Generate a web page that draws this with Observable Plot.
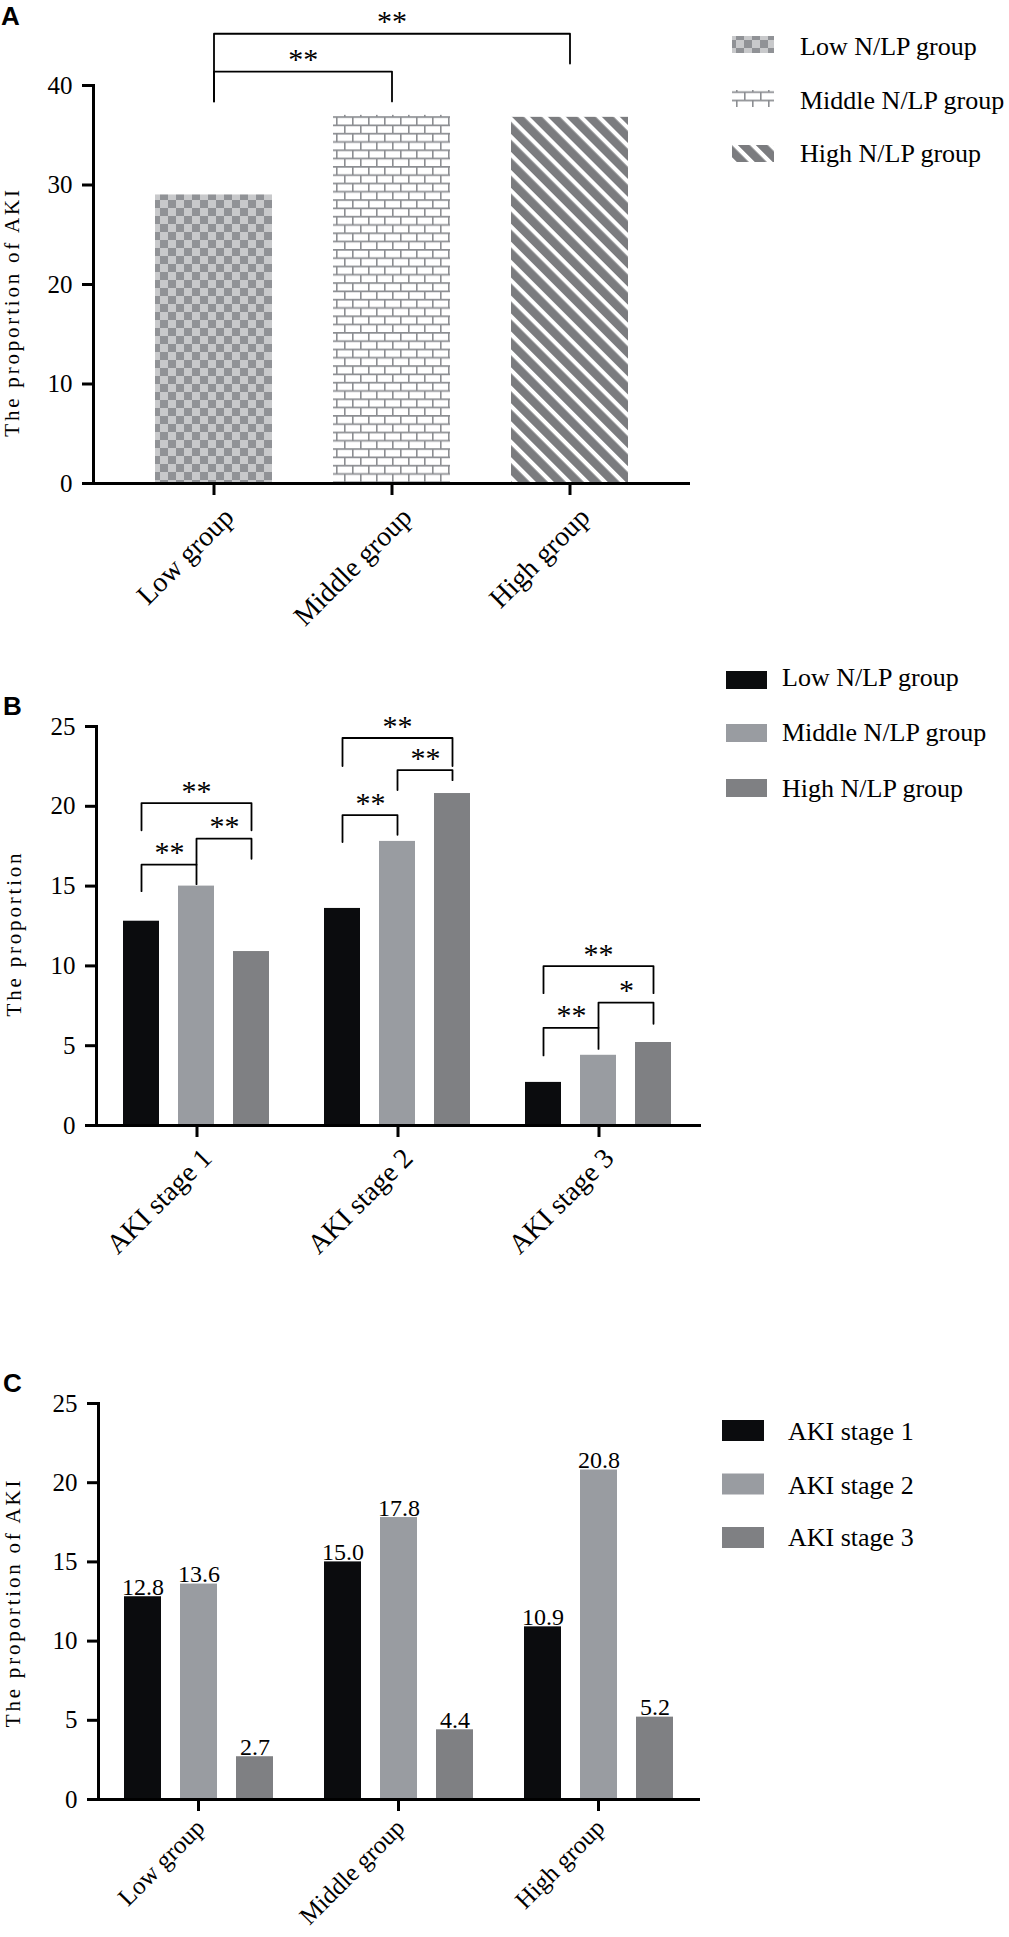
<!DOCTYPE html>
<html>
<head>
<meta charset="utf-8">
<script src="https://cdn.jsdelivr.net/npm/d3@7"></script>
<script src="https://cdn.jsdelivr.net/npm/@observablehq/plot@0.6"></script>
<style>
html, body { margin: 0; padding: 0; background: #fff; }
#root { position: relative; width: 1009px; height: 1937px; overflow: hidden; background: #fff; }
#root > svg { position: absolute; left: 0; }
#root svg text { font-family: 'Liberation Serif', 'Times New Roman', serif; }
</style>
</head>
<body>
<svg width="0" height="0" style="position:absolute">
  <defs>
    <pattern id="checker" patternUnits="userSpaceOnUse" width="16" height="16">
      <rect width="16" height="16" fill="#c8c9cb"/>
      <rect width="8" height="8" fill="#909296"/>
      <rect x="8" y="8" width="8" height="8" fill="#909296"/>
    </pattern>
    <pattern id="bricks" patternUnits="userSpaceOnUse" width="16" height="16.6">
      <rect width="16" height="16.6" fill="#fff"/>
      <path d="M0 0.8H16M0 9.1H16M0.8 0V8.3M8.8 8.3V16.6" stroke="#8c8e92" stroke-width="1.6" fill="none"/>
    </pattern>
    <pattern id="stripes" patternUnits="userSpaceOnUse" width="12.7" height="12.7" patternTransform="rotate(-45)">
      <rect width="12.7" height="12.7" fill="#fff"/>
      <rect width="8.5" height="12.7" fill="#7b7c7f"/>
    </pattern>
  </defs>
</svg>
<div id="root"></div>
<script>
// ---------- data ----------
const groups = ["Low group", "Middle group", "High group"];
const nlpGroups = ["Low N/LP group", "Middle N/LP group", "High N/LP group"];
const stages = ["AKI stage 1", "AKI stage 2", "AKI stage 3"];

// Panel A: proportion of AKI per N/LP group
const aValues = [29.0, 37.0, 36.8];
// Panels B & C: proportion per AKI stage (one array per N/LP group)
const lowValues = [12.8, 13.6, 2.7];
const middleValues = [15.0, 17.8, 4.4];
const highValues = [10.9, 20.8, 5.2];

const yTicksA = [0, 10, 20, 30, 40];
const yTicksBC = [0, 5, 10, 15, 20, 25];

const titleA = "The proportion of AKI";
const titleB = "The proportion";
const titleC = "The proportion of AKI";

// significance brackets, panel A (y in data units)
const aBrFrom = ["Low group", "Low group"];
const aBrTo = ["Middle group", "High group"];
const aBrTop = [41.4, 45.2];
const aBrLeftEnd = [38.4, 38.4];
const aBrRightEnd = [38.4, 42.2];
const aBrLabel = ["**", "**"];

// significance brackets, panel B
const bBrStage = ["AKI stage 1", "AKI stage 1", "AKI stage 1",
                  "AKI stage 2", "AKI stage 2", "AKI stage 2",
                  "AKI stage 3", "AKI stage 3", "AKI stage 3"];
const bBrFrom = ["Low N/LP group", "Middle N/LP group", "Low N/LP group",
                 "Low N/LP group", "Middle N/LP group", "Low N/LP group",
                 "Low N/LP group", "Middle N/LP group", "Low N/LP group"];
const bBrTo = ["Middle N/LP group", "High N/LP group", "High N/LP group",
               "Middle N/LP group", "High N/LP group", "High N/LP group",
               "Middle N/LP group", "High N/LP group", "High N/LP group"];
const bBrTop = [16.34, 17.97, 20.2, 19.45, 22.27, 24.28, 6.12, 7.7, 9.99];
const bBrLeftEnd = [14.68, 16.34, 18.5, 17.76, 21.02, 22.52, 4.39, 6.12, 8.29];
const bBrRightEnd = [15.12, 16.71, 18.5, 18.21, 21.64, 22.52, 4.8, 6.37, 8.29];
const bBrLabel = ["**", "**", "**", "**", "**", "**", "**", "*", "**"];

// ---------- styles ----------
const serif = "'Liberation Serif', 'Times New Roman', serif";
const sans = "'Liberation Sans', Arial, sans-serif";
const patternFills = ["url(#checker)", "url(#bricks)", "url(#stripes)"];
const seriesColors = ["#0b0c0e", "#999ca1", "#7f8083"];
const bracketStroke = 1.8;
const starSize = 30;

// ---------- tables built from the arrays ----------
const aData = groups.map((g, i) => ({group: g, value: aValues[i], fill: patternFills[i]}));
const nlpArrays = [lowValues, middleValues, highValues];
const bData = [];
stages.forEach((s, j) => nlpGroups.forEach((n, i) => bData.push({stage: s, series: n, value: nlpArrays[i][j]})));
const cData = [];
groups.forEach((g, i) => stages.forEach((s, j) => cData.push({group: g, stage: s, value: nlpArrays[i][j]})));

function bracketPoints(from, to, top, le, re, extra) {
  const pts = [];
  from.forEach((f, k) => {
    const e = extra ? extra(k) : {};
    pts.push({id: k, x: f, y: le[k], ...e}, {id: k, x: f, y: top[k], ...e},
             {id: k, x: to[k], y: top[k], ...e}, {id: k, x: to[k], y: re[k], ...e});
  });
  return pts;
}
function bracketLabels(from, to, top, label, domain, extra) {
  return from.map((f, k) => {
    const i = domain.indexOf(f), j = domain.indexOf(to[k]);
    const m = (i + j) / 2;
    const e = extra ? extra(k) : {};
    return {x: domain[Math.floor(m)], half: m % 1 !== 0, y: top[k], label: label[k], ...e};
  });
}

const root = document.getElementById("root");
const baseStyle = {fontFamily: serif, fontSize: "25px", color: "black", background: "transparent", overflow: "visible"};

function styleTitle(svg, title) {
  d3.select(svg).selectAll("text").filter(function () { return this.textContent === title; })
    .style("letter-spacing", "2.8px");
}

// ---------- Panel A ----------
{
  const mL = 93, mR = 319, W = 1009, pad = 0.34;
  const step = (W - mL - mR) / (3 - pad + 2 * pad);
  const pts = bracketPoints(aBrFrom, aBrTo, aBrTop, aBrLeftEnd, aBrRightEnd);
  const labs = bracketLabels(aBrFrom, aBrTo, aBrTop, aBrLabel, groups);
  const chart = Plot.plot({
    width: W, height: 640,
    marginLeft: mL, marginRight: mR, marginTop: 85, marginBottom: 157,
    style: baseStyle,
    x: {domain: groups, padding: pad, label: null},
    y: {domain: [0, 40], label: null},
    color: {type: "identity"},
    marks: [
      Plot.barY(aData, {x: "group", y: "value", fill: "fill"}),
      Plot.frame({anchor: "left", strokeWidth: 3}),
      Plot.ruleY([0], {strokeWidth: 3}),
      Plot.axisY({ticks: yTicksA, tickSize: 11, tickPadding: 10, strokeWidth: 3, fontSize: 25, fontFamily: serif, label: null}),
      Plot.axisX({tickSize: 12, strokeWidth: 3, tickFormat: () => "", label: null}),
      Plot.axisX({tickSize: 0, tickRotate: -45, tickPadding: 18, dx: 15, dy: 11, fontSize: 28, fontFamily: serif, label: null}),
      Plot.line(pts, {x: "x", y: "y", z: "id", stroke: "black", strokeWidth: bracketStroke}),
      Plot.text(labs.filter(d => d.half), {x: "x", y: "y", text: "label", dx: step / 2, dy: -12, fontSize: starSize, fontFamily: serif}),
      Plot.text(labs.filter(d => !d.half), {x: "x", y: "y", text: "label", dy: -12, fontSize: starSize, fontFamily: serif}),
      Plot.text([titleA], {frameAnchor: "left", textAnchor: "middle", rotate: -90, dx: -81.5, dy: 27.5, fontSize: 21, fontFamily: serif})
    ]
  });
  styleTitle(chart, titleA);
  chart.style.top = "0px";
  root.appendChild(chart);
}

// ---------- grouped panels (B, C) ----------
function grouped({data, fxKey, fxDomain, xKey, xDomain, top, height, mL, mR, mT, mB, title, titleDx, titleDy, labelDx, labelDy, labelSize, extraMarks}) {
  const W = 1009, innerStep = 56, barW = 37;
  const facetW = (W - mL - mR) / 3;
  const pi = 1 - barW / innerStep;
  const po = (facetW / innerStep - 3 + pi) / 2;
  const chart = Plot.plot({
    width: W, height,
    marginLeft: mL, marginRight: mR, marginTop: mT, marginBottom: mB,
    style: baseStyle,
    fx: {domain: fxDomain, paddingInner: 0, paddingOuter: 0, label: null},
    x: {domain: xDomain, paddingInner: pi, paddingOuter: po, axis: null},
    y: {domain: [0, 25], label: null},
    color: {domain: xDomain, range: seriesColors},
    marks: [
      Plot.barY(data, {fx: fxKey, x: xKey, y: "value", fill: xKey}),
      Plot.frame({anchor: "left", strokeWidth: 3, facet: "super"}),
      Plot.frame({anchor: "bottom", strokeWidth: 3, facet: "super"}),
      Plot.axisY({ticks: yTicksBC, tickSize: 11, tickPadding: 10, strokeWidth: 3, fontSize: 25, fontFamily: serif, label: null}),
      Plot.axisFx({anchor: "bottom", tickSize: 12, strokeWidth: 3, tickFormat: () => "", label: null}),
      Plot.axisFx({anchor: "bottom", tickSize: 0, tickRotate: -45, tickPadding: 18, dx: labelDx, dy: labelDy, fontSize: labelSize, fontFamily: serif, label: null}),
      ...extraMarks(innerStep),
      Plot.text([title], {frameAnchor: "left", textAnchor: "middle", rotate: -90, dx: titleDx, dy: titleDy, fontSize: 21, fontFamily: serif, facet: "super"})
    ]
  });
  styleTitle(chart, title);
  chart.style.top = top + "px";
  root.appendChild(chart);
}

// Panel B
grouped({
  data: bData, fxKey: "stage", fxDomain: stages, xKey: "series", xDomain: nlpGroups,
  top: 640, height: 640, mL: 95, mR: 309, mT: 86, mB: 155,
  title: titleB, titleDx: -82.5, titleDy: 7.5, labelDx: 10, labelDy: 10, labelSize: 28,
  extraMarks: (innerStep) => {
    const pts = bracketPoints(bBrFrom, bBrTo, bBrTop, bBrLeftEnd, bBrRightEnd, k => ({stage: bBrStage[k]}));
    const labs = bracketLabels(bBrFrom, bBrTo, bBrTop, bBrLabel, nlpGroups, k => ({stage: bBrStage[k]}));
    return [
      Plot.line(pts, {fx: "stage", x: "x", y: "y", z: "id", stroke: "black", strokeWidth: bracketStroke}),
      Plot.text(labs.filter(d => d.half), {fx: "stage", x: "x", y: "y", text: "label", dx: innerStep / 2, dy: -12, fontSize: starSize, fontFamily: serif}),
      Plot.text(labs.filter(d => !d.half), {fx: "stage", x: "x", y: "y", text: "label", dy: -12, fontSize: starSize, fontFamily: serif})
    ];
  }
});

// Panel C
grouped({
  data: cData, fxKey: "group", fxDomain: groups, xKey: "stage", xDomain: stages,
  top: 1300, height: 637, mL: 98, mR: 311, mT: 103, mB: 138,
  title: titleC, titleDx: -85.5, titleDy: 1, labelDx: 2, labelDy: 6, labelSize: 25,
  extraMarks: () => [
    Plot.text(cData, {fx: "group", x: "stage", y: "value", text: d => d.value.toFixed(1), lineAnchor: "bottom", dy: -2, fontSize: 24, fontFamily: serif})
  ]
});

// ---------- legends & panel letters ----------
const overlay = d3.select(root).append("svg")
  .attr("width", 1009).attr("height", 1937)
  .style("top", "0px").style("pointer-events", "none");

function legend(labels, fills, sx, sw, sh, tops, tx, baselines) {
  labels.forEach((lab, i) => {
    overlay.append("rect").attr("x", sx).attr("y", tops[i]).attr("width", sw).attr("height", sh).attr("fill", fills[i]);
    overlay.append("text").attr("x", tx).attr("y", baselines[i]).text(lab)
      .attr("font-size", 26).attr("fill", "black");
  });
}
legend(nlpGroups, patternFills, 732, 42, 17, [36, 90, 145], 800, [55, 108.5, 162]);
legend(nlpGroups, seriesColors, 726, 41, 18, [671, 724, 779], 782, [686, 741, 797]);
legend(stages, seriesColors, 722, 42, 21, [1420, 1473.5, 1527], 788, [1440, 1494, 1546]);

[["A", 1, 25], ["B", 3, 715], ["C", 3, 1392]].forEach(([t, x, y]) => {
  overlay.append("text").attr("x", x).attr("y", y).text(t)
    .style("font-family", sans).attr("font-weight", "bold").attr("font-size", 26).attr("fill", "black");
});
</script>
</body>
</html>
